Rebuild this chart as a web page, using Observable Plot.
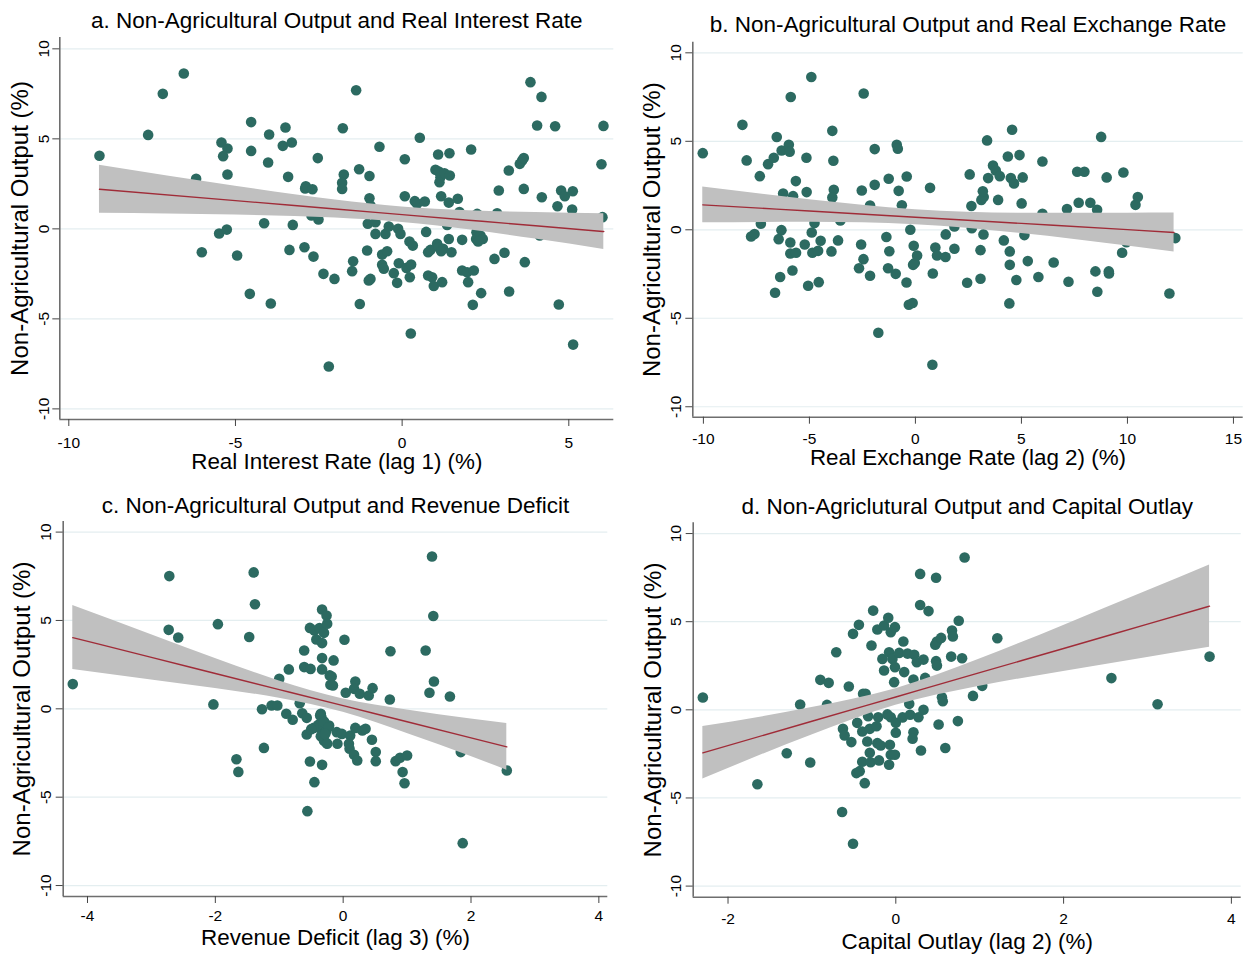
<!DOCTYPE html>
<html><head><meta charset="utf-8">
<script src="https://cdn.jsdelivr.net/npm/d3@7"></script>
<script src="https://cdn.jsdelivr.net/npm/@observablehq/plot@0.6"></script>
<style>
body{margin:0;background:#fff;}
#wrap{position:relative;width:1250px;height:959px;background:#fff;}
.panel{position:absolute;}
.panel g[aria-label="x-axis tick label"], .panel g[aria-label="y-axis tick label"]{font-size:15.5px !important;}
</style></head><body><div id="wrap"></div>
<script>
// ---------- shared tick labels ----------
const yTicks = [-10, -5, 0, 5, 10];
const aTicks = [-10, -5, 0, 5];
const bTicks = [-10, -5, 0, 5, 10, 15];
const cTicks = [-4, -2, 0, 2, 4];
const dTicks = [-2, 0, 2, 4];

// ---------- titles ----------
const titles = [
  "a. Non-Agricultural Output and Real Interest Rate",
  "b. Non-Agricultural Output and Real Exchange Rate",
  "c. Non-Agricultural Output and Revenue Deficit",
  "d. Non-Agriclutural Output and Capital Outlay"
];
const xLabels = [
  "Real Interest Rate (lag 1) (%)",
  "Real Exchange Rate (lag 2) (%)",
  "Revenue Deficit (lag 3) (%)",
  "Capital Outlay (lag 2) (%)"
];
const yLabel = "Non-Agricultural Output (%)";

// ---------- panel a: points ----------
const aX = [-9.08,-7.62,-7.18,-6.55,-6.18,-6.01,-5.49,-5.26,-5.42,-5.24,-5.37,-5.24,-4.95,-4.53,-4.53,-4.57,-4.14,-3.99,-4.02,-3.94,-3.58,-3.5,-3.31,-3.42,-3.38,-3.28,-2.93,-2.91,-2.89,-2.69,-2.66,-2.53,-2.72,-2.51,-2.36,-2.2,
-2.03,-1.78,-1.38,-1.75,-1.8,-1.8,-1.29,-0.98,-0.98,-0.95,-1.03,-0.8,-0.8,-1.05,-1.47,-1.5,-1.0,-0.95,-1.27,-0.68,-0.5,-0.4,-0.6,-0.45,-0.6,-0.55,-0.25,-0.15,-0.1,0.08,0.08,-0.12,-0.05,0.22,0.32,0.13,0.27,0.23,0.26,0.53,0.38,0.45,0.68,0.72,0.78,0.85,0.78,0.9,0.95,1.2,1.0,1.1,1.08,1.42,1.15,1.12,1.27,1.43,1.17,1.4,1.67,1.05,1.1,1.23,1.17,1.4,1.48,1.35,1.72,1.8,1.8,1.98,1.95,2.15,2.12,2.07,2.25,2.23,2.22,2.35,2.42,2.28,2.37,2.9,2.85,2.77,3.07,3.21,3.2,3.53,3.6,3.65,3.65,3.68,3.85,4.18,4.05,4.59,4.19,4.13,4.66,4.77,4.88,5.12,5.1,4.7,5.13,6.04,5.98,6.01];
const aY = [4.06,5.22,7.5,8.63,2.78,-1.30,-0.26,-0.04,4.8,4.46,4.04,3.02,-1.48,5.93,4.33,-3.61,0.31,5.24,3.69,-4.15,4.61,5.63,4.8,2.89,-1.17,0.22,-1.02,2.24,2.37,2.2,-1.54,3.93,0.74,0.52,-2.5,-7.65,
-2.78,5.59,7.70,3.02,2.56,2.22,3.31,2.94,1.70,1.30,0.28,0.37,-0.28,-1.2,-1.8,-2.35,-2.87,-2.78,-4.17,4.56,-0.28,0.13,-1.43,-1.24,-2.0,-2.22,-2.46,-3.0,-1.91,3.87,1.81,0.0,-0.28,-0.7,-0.93,-2.17,-1.98,-2.69,-5.81,5.06,1.54,1.39,1.52,-0.17,-1.3,-1.17,-2.59,-2.69,-3.17,-2.96,3.28,3.19,4.13,4.2,2.87,2.59,3.09,2.96,1.81,1.46,1.67,-0.83,-1.02,-1.11,-1.24,-0.56,-1.3,0.22,0.93,-0.61,-2.31,-2.96,-2.41,-2.31,-4.22,4.41,0.83,-0.19,-0.56,-0.37,-0.56,-0.7,-3.57,2.13,0.87,-1.67,-1.33,-3.48,3.24,3.61,3.8,3.93,2.22,-1.85,8.15,7.33,5.74,5.7,1.76,-0.37,1.26,2.13,1.81,2.09,1.07,-4.2,-6.43,5.72,3.59,0.65];
// panel a: fitted line and 95% band
const aFitX = [-9.08, -5, -2, 0, 2, 4, 6.05];
const aFit  = [2.20, 1.57, 1.10, 0.79, 0.48, 0.17, -0.15];
const aLo   = [0.87, 0.77, 0.60, 0.36, -0.05, -0.57, -1.14];
const aHi   = [3.53, 2.37, 1.60, 1.22, 1.01, 0.91, 0.84];

// ---------- panel b ----------
const bX = [-10.03,-8.16,-7.96,-7.34,-7.29,-7.75,-7.59,-6.95,-6.68,-6.54,-6.31,-5.97,-5.93,-5.88,-6.24,-5.77,-5.64,-6.32,-6.45,-6.38,-6.62,-5.9,-5.9,-5.63,-5.80,-5.22,-5.14,-5.13,-4.91,-5.06,-4.89,-4.76,-4.86,-4.59,-4.47,-4.56,-3.92,-3.87,-3.85,-3.92,-3.96,-3.65,-3.54,-2.53,-2.56,-2.45,-2.66,-2.44,-2.14,-2.14,-1.92,-1.92,-1.75,-1.37,-1.26,-1.23,-1.29,-0.93,-0.88,-0.83,-0.79,-0.64,-0.41,-0.42,-0.24,-0.08,-0.11,-0.03,0.08,-0.31,-0.13,0.69,0.80,0.82,0.94,1.02,1.42,1.43,1.84,1.84,
2.56,2.64,2.66,2.44,3.07,3.07,3.21,3.11,3.22,3.18,3.38,3.43,3.66,3.79,3.98,3.90,4.17,4.36,4.45,4.45,4.43,4.56,4.50,4.65,4.91,5.06,5.01,5.14,5.30,4.76,5.80,5.99,5.99,6.52,7.15,7.22,7.63,7.97,7.7,8.25,8.57,8.49,8.58,8.76,9.02,9.12,9.13,9.81,9.75,9.95,10.38,10.49,11.98,12.26];
const bY = [4.33,5.93,3.92,3.03,0.34,-0.38,-0.24,3.71,4.07,5.24,4.48,4.80,4.41,7.50,2.05,1.90,2.75,-0.02,-0.53,-2.67,-3.56,-0.72,-1.34,-1.30,-2.30,-0.83,4.07,2.13,8.63,-3.16,-0.15,0.38,-1.30,-1.19,-0.62,-2.96,5.59,3.90,2.26,1.83,-1.22,-0.60,0.53,2.22,-0.83,-1.66,-2.17,7.70,1.37,-2.60,4.56,2.54,-5.82,-0.41,2.88,-1.21,-2.17,-2.49,4.80,4.58,2.20,1.39,3.01,-2.98,0.0,-0.9,-1.98,-1.88,-1.45,-4.24,-4.14,2.37,-7.63,-2.47,-1.0,-1.45,-1.54,-0.26,-1.07,0.19,
3.13,1.34,0.09,-2.99,-2.77,-1.15,-0.26,1.69,1.85,2.18,5.05,2.92,3.63,3.35,3.03,1.69,-0.6,4.14,-1.22,-1.98,-4.16,5.65,2.92,2.62,4.22,2.96,1.49,-0.30,-1.77,-2.84,-2.67,3.86,0.90,-1.85,1.17,-2.94,3.28,3.28,1.53,1.53,1.13,-2.35,-3.50,5.25,2.96,-2.35,-2.47,3.24,-1.30,-0.70,1.41,1.85,-3.60,-0.47];
const bFitX = [-10.03, -5, 0, 5, 10, 12.2];
const bFit  = [1.41, 1.06, 0.71, 0.36, 0.01, -0.15];
const bLo   = [0.40, 0.42, 0.29, -0.21, -0.92, -1.25];
const bHi   = [2.42, 1.70, 1.13, 0.93, 0.94, 0.95];

// ---------- panel c ----------
const cX = [-4.23,-2.72,-2.73,-2.58,-2.03,-1.96,-1.67,-1.64,-1.40,-1.38,-1.47,-1.27,-1.24,-1.12,-1.03,-1.0,-0.85,-0.89,-0.79,-0.68,-0.64,-0.57,-0.57,-0.61,-0.61,-0.51,-0.52,-0.45,-0.37,-0.30,-0.42,-0.33,-0.33,-0.26,-0.25,-0.33,-0.33,-0.21,-0.2,-0.35,-0.34,-0.30,-0.35,-0.39,-0.46,-0.50,-0.35,-0.30,-0.26,-0.22,-0.52,-0.33,-0.45,-0.56,-0.27,
-0.15,-0.18,-0.16,0.02,0.04,0.19,0.17,0.26,0.40,0.46,0.74,0.73,1.29,1.39,1.41,1.42,1.35,1.67,-0.36,-0.30,-0.23,-0.28,-0.25,-0.10,-0.02,0.11,-0.09,0.09,0.10,0.17,0.22,0.19,0.30,0.35,0.45,0.51,0.51,0.82,0.89,1.0,0.93,0.96,1.84,2.56,1.87];
const cY = [1.40,7.51,4.47,4.04,0.25,4.79,-2.85,-3.57,7.72,5.92,4.06,-0.02,-2.21,0.19,0.19,1.70,2.23,-0.28,-0.62,0.32,-0.25,-0.51,-1.45,3.30,2.36,2.26,4.58,4.43,4.57,4.30,3.92,3.72,5.62,5.28,4.81,2.87,2.23,1.89,1.36,-0.28,-0.47,-0.72,-1.13,-0.91,-1.08,-1.15,-1.55,-1.81,-1.94,-0.94,-2.98,-3.17,-4.15,-5.79,-1.28,
2.74,1.83,1.32,3.91,0.91,1.55,1.13,0.85,0.75,1.17,3.26,0.53,3.30,8.62,5.25,1.55,0.91,0.70,-0.38,-0.75,-1.04,-1.42,-1.98,-1.32,-1.42,-1.51,-1.98,-1.98,-2.26,-2.60,-2.92,-1.08,-1.23,-1.13,-1.75,-2.45,-2.96,-2.96,-2.77,-2.64,-3.58,-4.21,-2.45,-3.49,-7.60];
const cFitX = [-4.23, -3, -2, -1, 0, 1, 2, 2.56];
const cFit  = [4.03, 2.91, 2.00, 1.09, 0.18, -0.73, -1.64, -2.15];
const cLo   = [2.22, 1.63, 1.15, 0.60, -0.20, -1.40, -2.70, -3.47];
const cHi   = [5.84, 4.19, 2.85, 1.58, 0.56, -0.06, -0.58, -0.83];

// ---------- panel d ----------
const dX = [-2.30,-1.65,-1.30,-1.14,-1.02,-0.90,-0.80,-0.82,-0.71,-0.64,-0.56,-0.63,-0.61,-0.53,-0.51,-0.44,-0.51,-0.47,-0.43,-0.40,-0.37,-0.46,-0.39,-0.36,-0.40,-0.34,-0.31,-0.33,-0.31,-0.30,-0.29,-0.27,-0.22,-0.21,-0.20,-0.22,-0.23,-0.18,-0.16,-0.14,-0.14,-0.09,-0.10,-0.06,-0.08,-0.06,-0.04,-0.02,-0.01,-0.01,0.0,-0.07,-0.06,-0.08,-0.01,0.0,0.04,0.08,0.09,0.10,0.14,0.16,0.17,0.21,0.20,0.22,0.25,0.21,0.27,0.27,0.30,0.29,0.29,0.33,0.33,0.35,0.39,0.47,0.49,0.54,0.48,0.49,0.48,0.51,0.55,0.56,0.59,0.67,0.68,0.66,0.74,0.82,0.75,0.79,1.21,0.92,1.03,0.80,2.57,3.12,3.74];
const dY = [0.70,-4.22,-2.46,0.30,-2.99,1.70,1.53,0.28,3.27,-5.80,1.32,-1.08,-1.46,-1.83,4.31,4.82,-7.60,-3.59,-3.48,-2.95,-4.16,-0.74,0.91,0.91,-1.23,-1.80,-1.08,-0.36,-2.44,-2.97,3.65,5.63,4.56,-0.42,-2.87,-1.89,-0.93,-2.02,2.89,2.23,4.78,5.22,-0.26,-0.42,3.27,4.40,2.89,1.57,4.69,2.42,-1.30,-1.98,-2.55,-3.12,-2.55,-0.74,3.23,-0.43,3.88,2.14,3.19,0.34,-0.28,-1.27,-1.64,3.12,2.70,1.72,1.00,-0.42,-2.31,7.71,5.95,2.85,0.0,1.81,5.60,3.69,3.88,4.08,2.76,2.51,7.49,-0.83,0.72,0.49,-2.17,4.50,4.16,3.02,-0.64,8.64,5.05,2.93,4.06,0.79,1.36,2.20,1.80,0.32,3.02];
const dFitX = [-2.30, -1, 0, 1, 2, 3, 3.74];
const dFit  = [-2.44, -0.65, 0.73, 2.11, 3.48, 4.86, 5.88];
const dLo   = [-3.93, -1.43, 0.26, 1.34, 2.17, 2.97, 3.55];
const dHi   = [-0.95, 0.13, 1.20, 2.88, 4.79, 6.75, 8.21];

// ---------- styling ----------
const DOT = "#2c6a61", BAND = "#c0c0c0", LINE = "#a02c38", GRID = "#e4eef0", AXIS = "#6e6e6e";
const FONT = "'Liberation Sans', Arial, Helvetica, sans-serif";

const panels = [
  {left: 0, top: 0, w: 625, h: 480, mL: 59.3, mR: 11.7, mT: 37, mB: 61,
   xDom: [-10.27, 6.35], yDom: [-10.59, 10.63], xTicks: aTicks,
   x: aX, y: aY, fx: aFitX, fit: aFit, lo: aLo, hi: aHi,
   title: titles[0], xl: xLabels[0], tDy: -17, xDy: 42, yDx: -39, ytp: 4, xtp: 10},
  {left: 625, top: 0, w: 625, h: 480, mL: 67.3, mR: 7.3, mT: 41.7, mB: 63.3,
   xDom: [-10.5, 15.46], yDom: [-10.59, 10.6], xTicks: bTicks,
   x: bX, y: bY, fx: bFitX, fit: bFit, lo: bLo, hi: bHi,
   title: titles[1], xl: xLabels[1], tDy: -17, xDy: 41, yDx: -40, ytp: 5, xtp: 9},
  {left: 0, top: 480, w: 625, h: 479, mL: 62.7, mR: 17.7, mT: 41, mB: 63,
   xDom: [-4.38, 4.14], yDom: [-10.62, 10.6], xTicks: cTicks,
   x: cX, y: cY, fx: cFitX, fit: cFit, lo: cLo, hi: cHi,
   title: titles[2], xl: xLabels[2], tDy: -16, xDy: 41, yDx: -41, ytp: 5, xtp: 6.5},
  {left: 625, top: 480, w: 625, h: 479, mL: 67.7, mR: 9.3, mT: 42.3, mB: 62.3,
   xDom: [-2.415, 4.117], yDom: [-10.63, 10.61], xTicks: dTicks,
   x: dX, y: dY, fx: dFitX, fit: dFit, lo: dLo, hi: dHi,
   title: titles[3], xl: xLabels[3], tDy: -16, xDy: 45, yDx: -40, ytp: 5, xtp: 9}
];

const wrap = document.getElementById("wrap");
for (const p of panels) {
  const idx = d3.range(p.x.length);
  const bi = d3.range(p.fx.length);
  const chart = Plot.plot({
    width: p.w, height: p.h,
    marginLeft: p.mL, marginRight: p.mR, marginTop: p.mT, marginBottom: p.mB,
    x: {domain: p.xDom},
    y: {domain: p.yDom},
    style: {fontFamily: FONT, fontSize: "15.5px", background: "#fff", color: "#000", overflow: "visible"},
    marks: [
      Plot.gridY(yTicks, {stroke: GRID, strokeOpacity: 1, strokeWidth: 1.2}),
      Plot.dot(idx, {x: i => p.x[i], y: i => p.y[i], r: 5.3, fill: DOT, stroke: "none"}),
      Plot.areaY(bi, {x: i => p.fx[i], y1: i => p.lo[i], y2: i => p.hi[i], fill: BAND, fillOpacity: 1, curve: "monotone-x"}),
      Plot.line(bi, {x: i => p.fx[i], y: i => p.fit[i], stroke: LINE, strokeWidth: 1.4, curve: "monotone-x"}),
      Plot.ruleX([p.xDom[0]], {stroke: AXIS, strokeWidth: 1.6}),
      Plot.ruleY([p.yDom[0]], {stroke: AXIS, strokeWidth: 1.6}),
      Plot.axisX({ticks: p.xTicks, tickSize: 7, tickPadding: p.xtp, tickFormat: d => String(d), label: null, stroke: "#444", fontSize: 15.5}),
      Plot.axisY({ticks: yTicks, tickSize: 7, tickPadding: p.ytp, tickRotate: -90, tickFormat: d => String(d), label: null, stroke: "#444", fontSize: 15.5}),
      Plot.text([p.title], {text: d => d, frameAnchor: "top", dy: p.tDy, textAnchor: "middle", lineAnchor: "middle", fontSize: 22.5, fill: "#000"}),
      Plot.text([p.xl], {text: d => d, frameAnchor: "bottom", dy: p.xDy, textAnchor: "middle", lineAnchor: "middle", fontSize: 22.4, fill: "#000"}),
      Plot.text([yLabel], {text: d => d, frameAnchor: "left", dx: p.yDx, rotate: -90, textAnchor: "middle", lineAnchor: "middle", fontSize: 24, fill: "#000"})
    ]
  });
  chart.classList.add("panel");
  chart.style.left = p.left + "px";
  chart.style.top = p.top + "px";
  wrap.appendChild(chart);
}
</script>
</body></html>
